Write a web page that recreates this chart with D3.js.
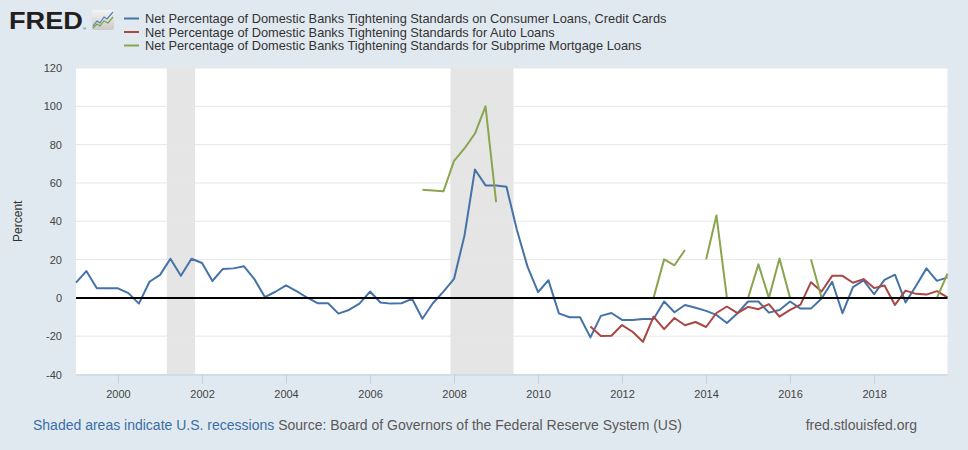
<!DOCTYPE html>
<html>
<head>
<meta charset="utf-8">
<script src="https://cdn.jsdelivr.net/npm/d3@7"></script>
<style>
  body { margin: 0; background: #e1e9f0; }
  svg { display: block; font-family: "Liberation Sans", Arial, sans-serif; }
</style>
</head>
<body>
<svg width="968" height="450"></svg>
<script>
// quarterly observations, 1999Q1 .. 2019Q4
const firstQuarter = "1999-01-01";
const lastQuarter = "2019-10-01";

const creditCards = [
  8, 14, 5, 5,
  5, 2.5, -3, 8.4,
  12, 20.4, 11.5, 20.4,
  18.2, 8.8, 15.1, 15.4,
  16.5, 9.8, 0.4, 3.2,
  6.5, 3.5, 0.2, -2.8,
  -2.8, -8.2, -6.3, -3,
  3.3, -2.4, -3, -2.8,
  -0.5, -10.9, -2.8, 3.3,
  9.9, 32.5, 67, 58.7,
  58.7, 58, 35.4, 16.3,
  3, 9.2, -8.1, -10.1,
  -10.1, -20.6, -9.4, -7.9,
  -11.5, -11.5, -11, -11,
  -1.9, -7.5, -3.7, -5.2,
  -6.8, -8.9, -13.1, -8,
  -1.9, -1.9, -7.7, -6.3,
  -1.9, -5.6, -5.6, -0.3,
  8.4, -8, 5.6, 9.1,
  1.9, 9.4, 12.1, -2.4,
  6.3, 15.4, 8.9, 10.7
];

const autoLoans = [
  null, null, null, null,
  null, null, null, null,
  null, null, null, null,
  null, null, null, null,
  null, null, null, null,
  null, null, null, null,
  null, null, null, null,
  null, null, null, null,
  null, null, null, null,
  null, null, null, null,
  null, null, null, null,
  null, null, null, null,
  null, -15, -19.9, -19.8,
  -14.2, -17.7, -22.9, -9.8,
  -16.3, -10.5, -14.3, -12.6,
  -15.2, -7.9, -4.5, -8,
  -4.7, -5.9, -3.3, -9.8,
  -6.3, -3.5, 8.2, 3.3,
  11.5, 11.5, 7.9, 9.8,
  5.1, 6.5, -3.7, 3.8,
  2.1, 1.7, 3.5, 0.3
];

const subprimeMortgage = [
  null, null, null, null,
  null, null, null, null,
  null, null, null, null,
  null, null, null, null,
  null, null, null, null,
  null, null, null, null,
  null, null, null, null,
  null, null, null, null,
  null, 56.4, 56, 55.6,
  71.5, 78, 85.8, 100,
  50, null, null, null,
  null, null, null, null,
  null, null, null, null,
  null, null, 0, 0,
  20.1, 17, 25, null,
  20.1, 43, 0, 0,
  0, 17.5, 0, 20.6,
  0, null, 20, 0,
  0, null, null, null,
  null, 0, 0, 0,
  null, 0, 0, 12.6
];

const seriesNames = [
  "Net Percentage of Domestic Banks Tightening Standards on Consumer Loans, Credit Cards",
  "Net Percentage of Domestic Banks Tightening Standards for Auto Loans",
  "Net Percentage of Domestic Banks Tightening Standards for Subprime Mortgage Loans"
];
const seriesColors = ["#4572a7", "#aa4643", "#89a54e"];

const recessions = [
  ["2001-03-01", "2001-11-01"],
  ["2007-12-01", "2009-06-01"]
];

const yTicks = [-40, -20, 0, 20, 40, 60, 80, 100, 120];
const xTickYears = [2000, 2002, 2004, 2006, 2008, 2010, 2012, 2014, 2016, 2018];

const parseDate = d3.timeParse("%Y-%m-%d");
const quarters = d3.timeMonth.every(3).range(parseDate(firstQuarter), d3.timeDay.offset(parseDate(lastQuarter), 1));

const margin = { top: 68, right: 20.5, bottom: 75.5, left: 76 };
const width = 968;
const height = 450;

const x = d3.scaleTime()
  .domain([parseDate(firstQuarter), parseDate(lastQuarter)])
  .range([margin.left, width - margin.right]);

const y = d3.scaleLinear()
  .domain([-40, 120])
  .range([height - margin.bottom, margin.top]);

const svg = d3.select("svg");

// plot background
svg.append("rect")
  .attr("x", margin.left)
  .attr("y", margin.top)
  .attr("width", width - margin.right - margin.left)
  .attr("height", height - margin.bottom - margin.top)
  .attr("fill", "#fff");

// recession bars
svg.append("g")
  .selectAll("rect")
  .data(recessions)
  .join("rect")
  .attr("x", d => x(parseDate(d[0])))
  .attr("width", d => x(parseDate(d[1])) - x(parseDate(d[0])))
  .attr("y", margin.top)
  .attr("height", height - margin.bottom - margin.top)
  .attr("fill", "#e5e5e5");

// grid
svg.append("g")
  .selectAll("line")
  .data(yTicks.filter(t => t !== 0))
  .join("line")
  .attr("x1", margin.left)
  .attr("x2", width - margin.right)
  .attr("y1", d => y(d))
  .attr("y2", d => y(d))
  .attr("stroke", "#e6e6e6")
  .attr("stroke-width", 1);

// y labels
svg.append("g")
  .selectAll("text")
  .data(yTicks)
  .join("text")
  .attr("x", 62)
  .attr("y", d => y(d) + 4)
  .attr("text-anchor", "end")
  .attr("font-size", 11)
  .attr("fill", "#444")
  .text(d => d);

svg.append("text")
  .attr("transform", `translate(22,${y(40)}) rotate(-90)`)
  .attr("text-anchor", "middle")
  .attr("font-size", 12)
  .attr("fill", "#333")
  .text("Percent");

// x axis
const xAxis = svg.append("g")
  .attr("transform", `translate(0,${height - margin.bottom})`)
  .call(d3.axisBottom(x)
    .tickValues(xTickYears.map(yr => new Date(yr, 0, 1)))
    .tickFormat(d3.timeFormat("%Y"))
    .tickSize(9)
    .tickSizeOuter(0)
    .tickPadding(7));
xAxis.select(".domain").attr("stroke", "#c0d0e0");
xAxis.selectAll(".tick line").attr("stroke", "#c0d0e0");
xAxis.selectAll(".tick text")
  .attr("font-family", "Liberation Sans, Arial, sans-serif")
  .attr("font-size", 11)
  .attr("fill", "#444");

// series
const line = d3.line()
  .defined(d => d.v !== null)
  .x(d => x(d.date))
  .y(d => y(d.v));

[creditCards, autoLoans, subprimeMortgage].forEach((vals, i) => {
  const pts = quarters.map((date, k) => ({ date, v: vals[k] }));
  svg.append("path")
    .datum(pts)
    .attr("fill", "none")
    .attr("stroke", seriesColors[i])
    .attr("stroke-width", 2)
    .attr("stroke-linejoin", "round")
    .attr("d", line);
});

// zero line
svg.append("line")
  .attr("x1", margin.left)
  .attr("x2", width - margin.right)
  .attr("y1", y(0))
  .attr("y2", y(0))
  .attr("stroke", "#000")
  .attr("stroke-width", 2);

// FRED logo
svg.append("text")
  .attr("x", 9)
  .attr("y", 29)
  .attr("font-size", 23)
  .attr("font-weight", "bold")
  .attr("fill", "#231f20")
  .attr("textLength", 74)
  .attr("lengthAdjust", "spacingAndGlyphs")
  .text("FRED");
svg.append("text")
  .attr("x", 83)
  .attr("y", 30)
  .attr("font-size", 4)
  .attr("fill", "#231f20")
  .text("®");

const grad = svg.append("defs").append("linearGradient")
  .attr("id", "logoBg").attr("x1", 0).attr("y1", 0).attr("x2", 0).attr("y2", 1);
grad.append("stop").attr("offset", 0).attr("stop-color", "#f4f4f4");
grad.append("stop").attr("offset", 1).attr("stop-color", "#c9c9c9");

svg.append("rect")
  .attr("x", 92).attr("y", 10).attr("width", 22).attr("height", 20)
  .attr("rx", 2).attr("fill", "url(#logoBg)");
svg.append("polyline")
  .attr("points", "93,26 97,21 100,23 104,17 107,19 113,12")
  .attr("fill", "none").attr("stroke", "#4f7fb5").attr("stroke-width", 1.2);
svg.append("polyline")
  .attr("points", "93,28 97,24 100,26 104,21 108,23 113,17")
  .attr("fill", "none").attr("stroke", "#7aa33d").attr("stroke-width", 1.2);

// legend
const legend = svg.append("g")
  .selectAll("g")
  .data(seriesNames)
  .join("g")
  .attr("transform", (d, i) => `translate(124,${18.5 + i * 13.5})`);
legend.append("line")
  .attr("x1", 0).attr("x2", 15)
  .attr("stroke", (d, i) => seriesColors[i])
  .attr("stroke-width", 2);
legend.append("text")
  .attr("x", 21)
  .attr("y", 4.5)
  .attr("font-size", 12.8)
  .attr("fill", "#333")
  .text(d => d);

// footer
const foot = svg.append("text")
  .attr("x", 33)
  .attr("y", 430)
  .attr("font-size", 14);
foot.append("tspan").attr("fill", "#3a6ea5").text("Shaded areas indicate U.S. recessions");
foot.append("tspan").attr("fill", "#595959").text(" Source: Board of Governors of the Federal Reserve System (US)");

svg.append("text")
  .attr("x", 917)
  .attr("y", 430)
  .attr("text-anchor", "end")
  .attr("font-size", 14)
  .attr("fill", "#595959")
  .text("fred.stlouisfed.org");
</script>
</body>
</html>
